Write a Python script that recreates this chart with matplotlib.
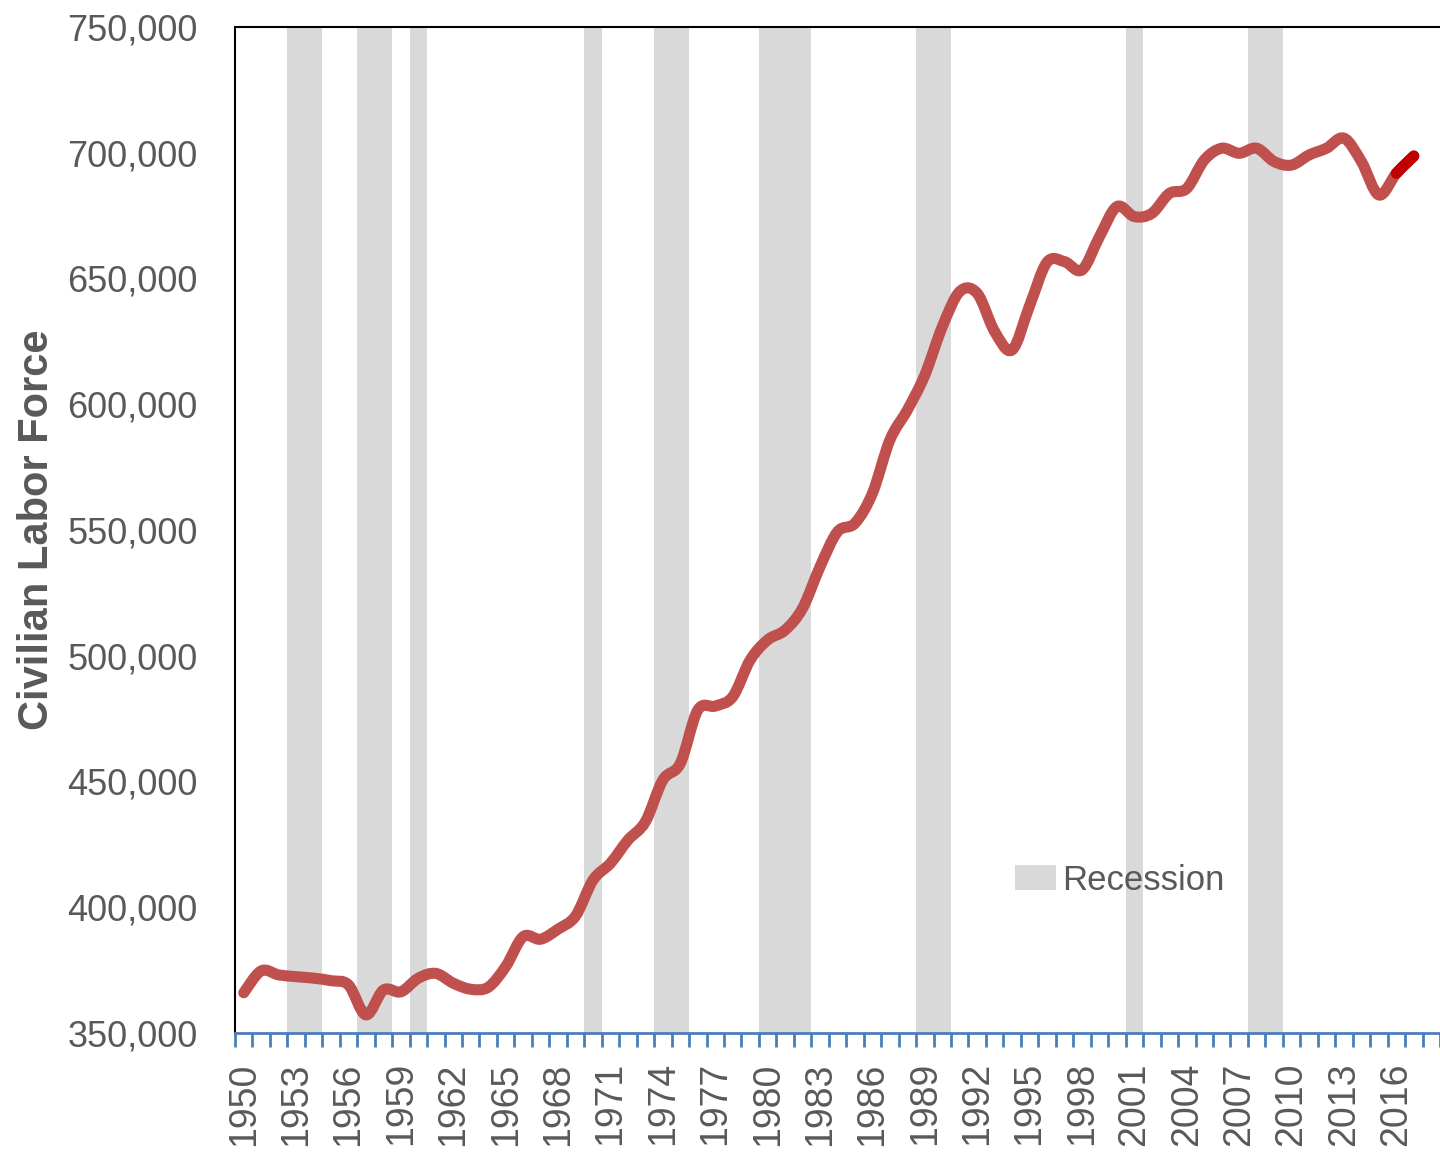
import numpy as np
import matplotlib
matplotlib.use('Agg')
import matplotlib.pyplot as plt
from matplotlib.path import Path
from matplotlib.patches import PathPatch, Patch
from matplotlib.ticker import FuncFormatter

plt.rcParams['font.family'] = ['Liberation Sans', 'DejaVu Sans']

# civilian labor force
years = list(range(1950, 2018))
labor_force = [
    366000, 374700, 373100, 372400, 371800, 370800, 369100, 357200, 367100, 366400,
    371800, 373700, 369800, 367400, 368200, 376400, 388300, 387300, 391300, 396500,
    410800, 417500, 426700, 434000, 450600, 457200, 478400, 480000, 483700, 498300,
    506300, 510200, 518900, 535400, 549300, 552700, 564600, 585800, 597700, 611600,
    630800, 644800, 644100, 628900, 621600, 639200, 656500, 656700, 653400, 666600,
    678600, 674600, 675900, 683800, 685800, 697100, 701800, 699800, 701800, 696500,
    695100, 699100, 701800, 705800, 696500, 683200, 691800, 698700,
]
recession_years = [1953, 1954, 1957, 1958, 1960, 1970, 1974, 1975,
                   1980, 1981, 1982, 1989, 1990, 2001, 2008, 2009]
recession_value = 750000
label_years = list(range(1950, 2017, 3))
first_year, last_year = 1950, 2018

line_color = '#C0504D'
last_color = '#C00000'
text_color = '#595959'
bar_color = '#D9D9D9'
axis_blue = '#4A7EBB'


def smooth_path(xs, ys):
    # Excel style smoothed line: catmull-rom segments as cubic beziers
    pts = np.column_stack([xs, ys]).astype(float)
    n = len(pts)
    verts = [pts[0]]
    codes = [Path.MOVETO]
    for i in range(n - 1):
        p0 = pts[i - 1] if i > 0 else pts[i]
        p1 = pts[i]
        p2 = pts[i + 1]
        p3 = pts[i + 2] if i + 2 < n else pts[i + 1]
        verts += [p1 + (p2 - p0) / 6, p2 - (p3 - p1) / 6, p2]
        codes += [Path.CURVE4] * 3
    return Path(verts, codes)


fig = plt.figure(figsize=(14.4, 11.56), dpi=100)
ax = fig.add_axes([235 / 1440, 1 - 1033 / 1156, 1 - 235 / 1440, (1033 - 27) / 1156])

ax.bar(recession_years, [recession_value] * len(recession_years), width=1.0,
       color=bar_color, zorder=1)

full = smooth_path(years, labor_force)
ax.add_patch(PathPatch(full, facecolor='none', edgecolor=line_color, lw=8,
                       capstyle='round', joinstyle='round', zorder=3))
tail = smooth_path(years[-4:], labor_force[-4:])
tail = Path(tail.vertices[-4:], [Path.MOVETO] + [Path.CURVE4] * 3)
ax.add_patch(PathPatch(tail, facecolor='none', edgecolor=last_color, lw=8,
                       capstyle='round', zorder=4))

ax.set_xlim(first_year - 0.5, last_year + 0.5)
ax.set_ylim(350000, 750000)

# category axis: ticks between categories, labels every third year
ax.set_xticks(np.arange(first_year - 0.5, last_year + 1.0, 1.0))
ax.set_xticklabels([])
ax.set_xticks(label_years, minor=True)
ax.set_xticklabels([str(y) for y in label_years], minor=True, rotation=90,
                   fontsize=27, color=text_color)
ax.tick_params(axis='x', which='major', length=10, width=2, color=axis_blue, direction='out')
ax.tick_params(axis='x', which='minor', length=0, pad=21)

ax.set_yticks(np.arange(350000, 750001, 50000))
ax.yaxis.set_major_formatter(FuncFormatter(lambda v, p: f'{int(v):,}'))
ax.tick_params(axis='y', length=0, pad=27, labelsize=26, labelcolor=text_color)

ax.set_ylabel('Civilian Labor Force', fontsize=30, fontweight='bold', color=text_color)
ax.yaxis.set_label_coords(-0.148, 0.5)

for side in ['top', 'left']:
    ax.spines[side].set_color('black')
    ax.spines[side].set_linewidth(1.5)
ax.spines['right'].set_visible(False)
ax.spines['bottom'].set_color(axis_blue)
ax.spines['bottom'].set_linewidth(2)

leg = ax.legend(handles=[Patch(facecolor=bar_color, edgecolor='none', label='Recession')],
                loc='center left', bbox_to_anchor=(0.647, 0.152), frameon=False,
                fontsize=25, handlelength=1.2, handleheight=0.75, handletextpad=0.16,
                borderpad=0, borderaxespad=0)
for t in leg.get_texts():
    t.set_color(text_color)

fig.savefig('out.png', dpi=100)
